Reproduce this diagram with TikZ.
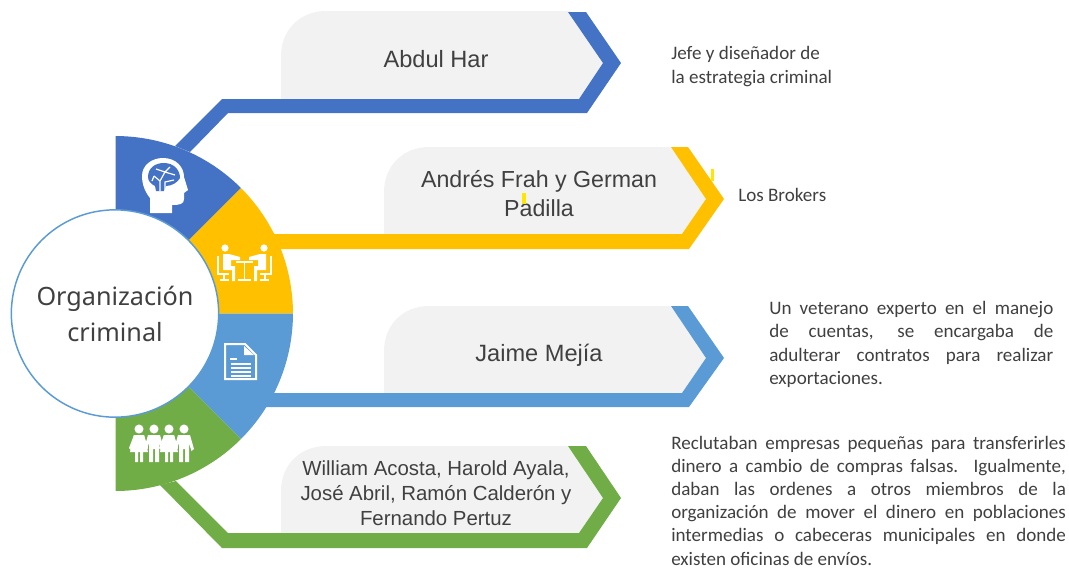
\documentclass[tikz,border=0pt]{standalone}
\usepackage{fontspec}
\setmainfont{Liberation Sans}
\newfontfamily\bodyfont{Carlito}
\newfontfamily\hubfont{Noto Sans}
\definecolor{cblue}{HTML}{4472C4}
\definecolor{cyellow}{HTML}{FFC000}
\definecolor{clight}{HTML}{5B9BD5}
\definecolor{cgreen}{HTML}{70AD47}
\definecolor{cgray}{HTML}{F2F2F2}
\definecolor{ctext}{HTML}{404040}
\definecolor{ctick}{HTML}{FFE600}
\newcommand{\jline}[2]{\makebox[#1][s]{#2}}
\tikzset{
  x=0.75pt,y=-0.75pt,
  panel/.style={fill=cgray,draw=none},
  label/.style={text=ctext,align=center,inner sep=0pt,font=\fontsize{17.7pt}{21pt}\selectfont},
  body/.style={text=ctext,align=left,inner sep=0pt,anchor=west,font=\bodyfont\fontsize{14.3pt}{17.4pt}\selectfont},
  ico/.style={fill=white,draw=none},
  icoline/.style={draw=white,line width=1.3pt,fill=none},
  tick/.style={fill=ctick,draw=none}
}
\begin{document}
\begin{tikzpicture}
\useasboundingbox (0,0) rectangle (1069,569);
\coordinate (c) at (115.5,313.5);
\def\Rr{133.1pt}
% grey panels
\fill[panel] (281,99) -- (281,56) .. controls (281,30) and (300,11) .. (326,11) -- (570,11) -- (603,63) -- (579,99) -- cycle;
\fill[panel] (384,234) -- (384,192) .. controls (384,166) and (403,147) .. (429,147) -- (673,147) -- (706,199) -- (682,234) -- cycle;
\fill[panel] (384,393) -- (384,351) .. controls (384,325) and (403,306) .. (429,306) -- (673,306) -- (706,358) -- (682,393) -- cycle;
\fill[panel] (281,533) -- (281,491) .. controls (281,465) and (300,446) .. (326,446) -- (570,446) -- (603,498) -- (579,533) -- cycle;
% connector ribbons
\fill[cblue] (175,146) -- (222,99) -- (579,99) -- (603,63) -- (568,12) -- (586,12) -- (621,63) -- (587,113) -- (228,113) -- (190,152) -- cycle;
\fill[cyellow] (265,234) -- (682,234) -- (706,199) -- (671,147) -- (688,147) -- (724,199) -- (689,249) -- (265,249) -- cycle;
\fill[clight] (265,393) -- (682,393) -- (706,358) -- (671,306) -- (688,306) -- (724,358) -- (689,407) -- (255,407) -- cycle;
\fill[cgreen] (176,481) -- (228,533) -- (579,533) -- (603,498) -- (568,446) -- (586,446) -- (621,498) -- (587,548) -- (222,548) -- (160,485) -- cycle;
% ring segments
\fill[cblue] (c) -- ++(90:\Rr) arc[start angle=90,end angle=45,radius=\Rr] -- cycle;
\fill[cyellow] (c) -- ++(45:\Rr) arc[start angle=45,end angle=0,radius=\Rr] -- cycle;
\fill[clight] (c) -- ++(0:\Rr) arc[start angle=0,end angle=-45,radius=\Rr] -- cycle;
\fill[cgreen] (c) -- ++(-45:\Rr) arc[start angle=-45,end angle=-90,radius=\Rr] -- cycle;
% hub
\node[circle,fill=white,draw=clight,line width=1.1pt,minimum size=155.5pt,inner sep=0pt,text=ctext,align=center,font=\hubfont\fontsize{18.9pt}{27pt}\selectfont] (hub) at (115,313.5) {Organización\\criminal};
% brain icon
\fill[ico] (150,213) -- (150,198) .. controls (145,192) and (142,184) .. (142,176) .. controls (142,165) and (152,158) .. (163,158) .. controls (176,158) and (184,167) .. (184,177) -- (188,190) -- (184,193) -- (184,199) .. controls (184,204) and (180,205) .. (172,205) -- (172,213) -- cycle;
\fill[cblue] (148,177) .. controls (148,168) and (155,163) .. (164,163) .. controls (174,163) and (180,170) .. (180,178) .. controls (178,182) and (172,186) .. (166,186) -- (164,191) -- (156,191) -- (155,186) .. controls (151,184) and (148,181) .. (148,177) -- cycle;
\draw[white,line width=0.9pt] (160,191) -- (160,181) -- (154,176) (160,181) -- (165,172) -- (156,169) (165,172) -- (175,175) (165,191) -- (165,182) -- (174,180) (165,172) -- (170,167) (154,176) -- (152,181);
% meeting icon
\fill[ico] (225,248) circle[radius=2.7pt];
\fill[ico] (264,248) circle[radius=2.7pt];
\fill[ico] (223,254) -- (229,254) -- (240,257) -- (240,260) -- (231,260) -- (231,266) -- (235,266) -- (235,281) -- (232,281) -- (232,270) -- (223,270) -- cycle;
\fill[ico] (266,254) -- (260,254) -- (249,257) -- (249,260) -- (258,260) -- (258,266) -- (254,266) -- (254,281) -- (257,281) -- (257,270) -- (266,270) -- cycle;
\draw[icoline] (218,256) -- (218,274) -- (229,274) (224,274) -- (224,279) (220,280) -- (229,280);
\draw[icoline] (271,256) -- (271,274) -- (260,274) (265,274) -- (265,279) (260,280) -- (269,280);
\draw[icoline] (236,262) -- (253,262) (244.5,262) -- (244.5,279) (238,280) -- (251,280);
% document icon
\draw[white,line width=1.5pt] (225,344) -- (245,344) -- (256,355) -- (256,379) -- (225,379) -- cycle;
\fill[ico] (244,346) -- (244,355) -- (254,355) -- cycle;
\draw[white,line width=1.1pt] (230,359) -- (237,359) (231,364) -- (251,364) (231,368) -- (251,368) (231,372) -- (251,372) (231,376) -- (251,376);
% family icon
\foreach \hx in {139,154,169,184} \fill[ico] (\hx,429) circle[radius=3.4pt];
\foreach \gx in {139,169} {
  \fill[ico] (\gx-5,435) -- (\gx+5,435) -- (\gx+9,452) -- (\gx+4,452) -- (\gx+4,462) -- (\gx+1,462) -- (\gx+1,452) -- (\gx-1,452) -- (\gx-1,462) -- (\gx-4,462) -- (\gx-4,452) -- (\gx-9,452) -- cycle;
  \fill[ico] (\gx-5,435) -- (\gx-10,448) -- (\gx-7,451) -- (\gx-3,440) -- cycle;
  \fill[ico] (\gx+5,435) -- (\gx+9,448) -- (\gx+7,451) -- (\gx+3,440) -- cycle;
}
\foreach \bx in {154,184} {
  \fill[ico] (\bx-6,435) -- (\bx+6,435) -- (\bx+10,449) -- (\bx+7.5,451) -- (\bx+5,443) -- (\bx+5,462) -- (\bx+1,462) -- (\bx+1,449) -- (\bx-1,449) -- (\bx-1,462) -- (\bx-5,462) -- (\bx-5,443) -- (\bx-7.5,451) -- (\bx-10,449) -- cycle;
}
% ribbon labels
\node[label] (l1) at (436,59) {Abdul Har};
\node[label,font=\fontsize{17.4pt}{21.7pt}\selectfont] (l2) at (539,194) {Andrés Frah y German\\Padilla};
\node[label] (l3) at (539,355) {Jaime Mejía};
\node[label,font=\fontsize{15.3pt}{18.7pt}\selectfont] (l4) at (436,493.5) {William Acosta, Harold Ayala,\\José Abril, Ramón Calderón y\\Fernando Pertuz};
% stray marks
\fill[tick] (711,169) rectangle (714,181);
\fill[tick] (522,193) rectangle (526,204);
% descriptions
\node[body] (d1) at (671,66.5) {Jefe y diseñador de\\la estrategia criminal};
\node[body] (d2) at (738,195) {Los Brokers};
\node[body] (d3) at (769,344.5) {\jline{213pt}{Un veterano experto en el manejo}\\\jline{213pt}{de cuentas, se encargaba de}\\\jline{213pt}{adulterar contratos para realizar}\\exportaciones.};
\node[body] (d4) at (671,500.5) {\jline{296pt}{Reclutaban empresas pequeñas para transferirles}\\\jline{296pt}{dinero a cambio de compras falsas. Igualmente,}\\\jline{296pt}{daban las ordenes a otros miembros de la}\\\jline{296pt}{organización de mover el dinero en poblaciones}\\\jline{296pt}{intermedias o cabeceras municipales en donde}\\existen oficinas de envíos.};
\end{tikzpicture}
\end{document}
